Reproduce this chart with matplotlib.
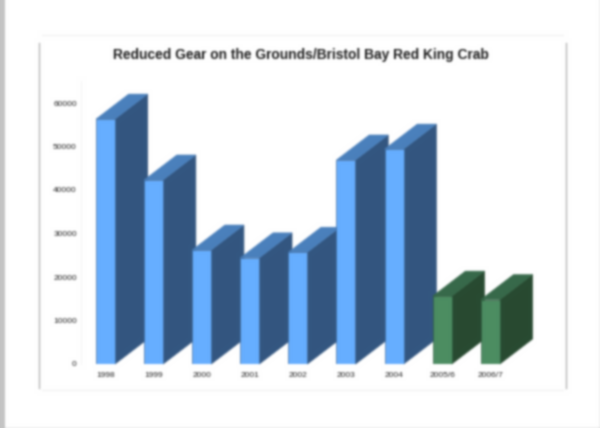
"""Reduced gear bar chart, drawn as pseudo-3D columns on a slide page."""
import numpy as np
import matplotlib
matplotlib.use("Agg")
import matplotlib.pyplot as plt
from matplotlib.lines import Line2D
from matplotlib.patches import Polygon, Rectangle

years = ["1998", "1999", "2000", "2001", "2002", "2003", "2004", "2005/6", "2006/7"]
gear = [56300, 42300, 26200, 24400, 25700, 46900, 49400, 15600, 14800]
y_ticks = [0, 10000, 20000, 30000, 40000, 50000, 60000]

# face colours: front, roof, side, outline
BLUE = ("#66aeff", "#4a80bc", "#335680", "#3f6a9c")
GREEN = ("#4c8d62", "#37694a", "#284a31", "#2f5a3e")
BAR_W = 0.395
DEPTH_X = 0.68    # extrusion, in category units
DEPTH_Y = 5750    # extrusion, in value units

plt.rcParams["font.family"] = ["Liberation Sans", "DejaVu Sans"]


def soften(img, dpi):
    # small gaussian over the whole render (the page is a low-res scan of a slide)
    sigma = 1.05 * dpi / 100
    r = int(3 * sigma) + 1
    k = np.exp(-0.5 * (np.arange(-r, r + 1) / sigma) ** 2)
    k /= k.sum()
    pad = np.pad(img, ((r, r), (r, r), (0, 0)), mode="edge")
    out = np.apply_along_axis(lambda c: np.convolve(c, k, mode="same"), 0, pad)
    out = np.apply_along_axis(lambda c: np.convolve(c, k, mode="same"), 1, out)
    return out[r:-r, r:-r], 0, 0


W, H = 600, 428
fig = plt.figure(figsize=(W / 100, H / 100), dpi=100, facecolor="white")


def px(x, y):
    return x / W, 1 - y / H


# page edges and chart frame
fig.add_artist(Rectangle((0, 0), 5 / W, 1, transform=fig.transFigure, color="#c4c4c4", lw=0))
fig.add_artist(Line2D([599.5 / W] * 2, [0, 1], color="#c0c0c0", lw=1))
fig.add_artist(Line2D([5 / W, 1], [1 - 427.5 / H] * 2, color="#b8b8b8", lw=1))
for a, b, col in [((39.5, 43), (39.5, 388), "#b4b4b4"), ((565.5, 43), (565.5, 388), "#b4b4b4"),
                  ((42, 35), (563, 35), "#f2f2f2"), ((42, 390), (563, 390), "#f2f2f2")]:
    fig.add_artist(Line2D(*zip(px(*a), px(*b)), color=col, lw=1))

left, right, top, bottom = 81, 555, 81.25, 364
ax = fig.add_axes([left / W, 1 - bottom / H, (right - left) / W, (bottom - top) / H])
ax.set_xlim(-0.509, 9.345)
ax.set_ylim(0, 65000)
ax.patch.set_alpha(0)

for i, (year, val) in enumerate(zip(years, gear)):
    front, roof, side, edge = GREEN if "/" in year else BLUE
    x0, x1 = i - BAR_W / 2, i + BAR_W / 2
    z = 3 + i
    ax.add_patch(Polygon([(x1, 0), (x1 + DEPTH_X, DEPTH_Y), (x1 + DEPTH_X, val + DEPTH_Y), (x1, val)],
                         fc=side, ec=side, lw=0.5, zorder=z, clip_on=False))
    ax.add_patch(Polygon([(x0, val), (x1, val), (x1 + DEPTH_X, val + DEPTH_Y), (x0 + DEPTH_X, val + DEPTH_Y)],
                         fc=roof, ec=roof, lw=0.4, zorder=z, clip_on=False))
    ax.bar(i, val, BAR_W, color=front, edgecolor=edge, lw=0.5, zorder=z)

ax.set_xticks(range(len(years)), years)
ax.set_yticks(y_ticks, [str(t) for t in y_ticks])
ax.tick_params(length=0, labelsize=6, labelcolor="#222222")
ax.tick_params(axis="x", pad=5.5)
ax.tick_params(axis="y", pad=3)
for name in ("top", "right", "bottom"):
    ax.spines[name].set_visible(False)
ax.spines["left"].set_color("#f4f4f4")
ax.spines["left"].set_linewidth(0.8)

fig.text(301 / W, 1 - 54.5 / H, "Reduced Gear on the Grounds/Bristol Bay Red King Crab",
         ha="center", va="center", fontsize=9.9, fontweight="bold", color="#1c1c1c")

fig.set_agg_filter(soften)
fig.savefig("out.png", dpi=100)
